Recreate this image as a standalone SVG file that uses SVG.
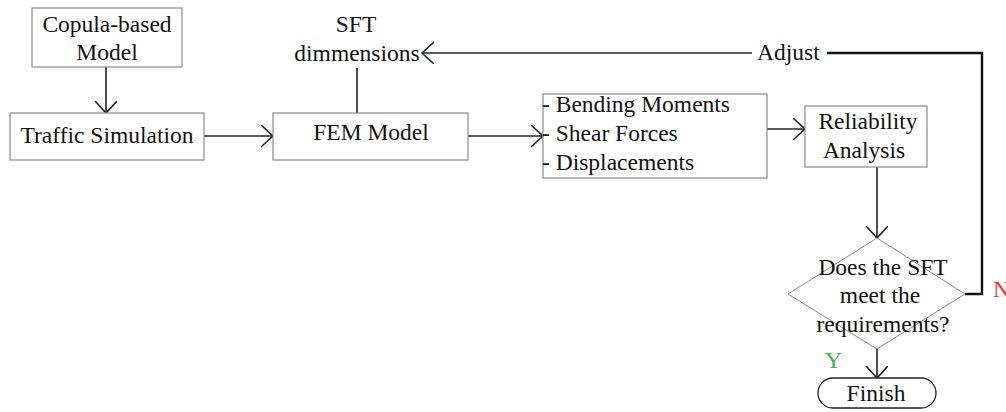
<svg xmlns="http://www.w3.org/2000/svg" width="1006" height="412" viewBox="0 0 1006 412">
<defs>
<style>
text{font-family:'Liberation Serif','Times New Roman','DejaVu Serif',serif;font-size:23.5px;fill:#111}
.box{fill:#fff;stroke:#8a8a8a;stroke-width:1.2}
.c{text-anchor:middle}
.ln{fill:none;stroke:#222;stroke-width:1.6}
.thick{fill:none;stroke:#111;stroke-width:2.4}
</style>
<marker id="arr" markerUnits="userSpaceOnUse" markerWidth="16" markerHeight="24" refX="12" refY="11" orient="auto">
<path d="M0,0 L12,11 L0,22" fill="none" stroke="#222" stroke-width="1.6"/>
</marker>
</defs>
<rect width="1006" height="412" fill="#fff"/>
<g id="connectors">
<line class="ln" x1="106" y1="67" x2="106" y2="113" marker-end="url(#arr)"/>
<line class="ln" x1="204" y1="136" x2="273" y2="136" marker-end="url(#arr)"/>
<line class="ln" x1="468" y1="136" x2="543" y2="136" marker-end="url(#arr)"/>
<line class="ln" x1="767" y1="129" x2="805" y2="129" marker-end="url(#arr)"/>
<line class="ln" x1="357" y1="113" x2="357" y2="68"/>
<line class="ln" x1="752" y1="53" x2="422" y2="53" marker-end="url(#arr)"/>
<polyline class="thick" points="827,53 982,53 982,294 965,294"/>
<line class="ln" x1="877" y1="167" x2="877" y2="238" marker-end="url(#arr)"/>
<line class="ln" x1="877" y1="349" x2="877" y2="378" marker-end="url(#arr)"/>
<text x="757" y="60" font-family="Liberation Serif, serif">Adjust</text>
<text x="825" y="368" style="fill:#3cb44b">Y</text>
<text x="993" y="297" style="fill:#ee3333">N</text>
</g>
<g id="copula">
<rect class="box" x="32" y="8" width="150" height="59"/>
<text class="c" x="107" y="32">Copula-based</text>
<text class="c" x="107" y="60">Model</text>
</g>
<g id="traffic">
<rect class="box" x="10" y="113" width="194" height="47"/>
<text class="c" x="107" y="143">Traffic Simulation</text>
</g>
<g id="sft">
<text class="c" x="356" y="32">SFT</text>
<text class="c" x="357" y="61">dimmensions</text>
</g>
<g id="fem">
<rect class="box" x="273" y="113" width="195" height="47"/>
<text class="c" x="371" y="140">FEM Model</text>
</g>
<g id="outputs">
<rect class="box" x="543" y="94" width="224" height="84"/>
<text x="542" y="112">- Bending Moments</text>
<text x="542" y="141">- Shear Forces</text>
<text x="542" y="170">- Displacements</text>
</g>
<g id="reliability">
<rect class="box" x="805" y="106" width="122" height="61"/>
<text class="c" x="868" y="129">Reliability</text>
<text class="c" x="864" y="158">Analysis</text>
</g>
<g id="decision">
<polygon points="877,238 965,294 877,349 788,294" fill="#fff" stroke="#8a8a8a" stroke-width="1"/>
<text class="c" x="883" y="275">Does the SFT</text>
<text class="c" x="880" y="303">meet the</text>
<text class="c" x="883" y="332">requirements?</text>
</g>
<g id="finish">
<rect x="818" y="378" width="118" height="30" rx="15" fill="#fff" stroke="#222" stroke-width="1.3"/>
<text class="c" x="876" y="401">Finish</text>
</g>
</svg>
